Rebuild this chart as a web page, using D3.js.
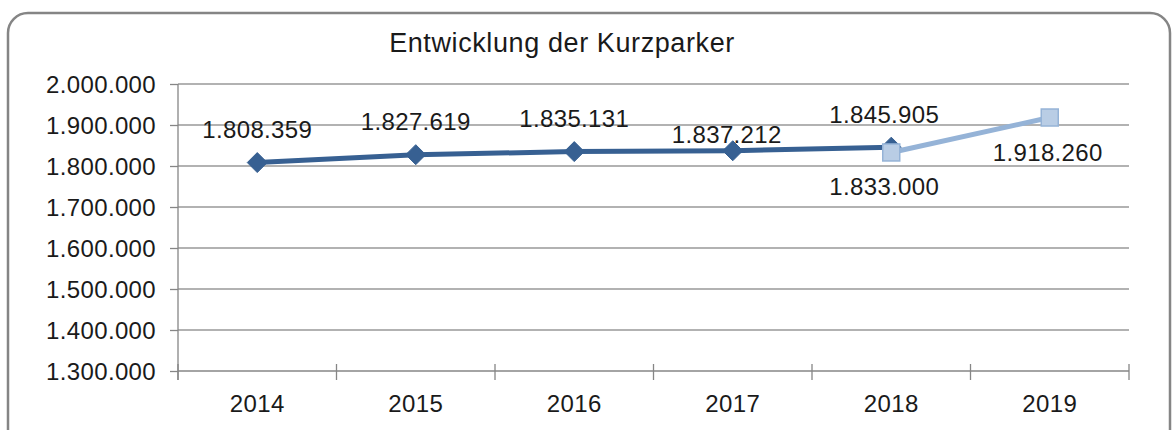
<!DOCTYPE html>
<html lang="de">
<head>
  <meta charset="UTF-8">
  <title>Entwicklung der Kurzparker</title>
  <script src="https://d3js.org/d3.v7.min.js"></script>
  <style>
    body, html {
      margin: 0;
      padding: 0;
      overflow: hidden;
      background: #ffffff;
    }
    text {
      font-family: "Liberation Sans", Arial, sans-serif;
      fill: #1a1a1a;
      letter-spacing: 0.35px;
    }
  </style>
</head>
<body>
<script>
  // data
  const years = ["2014", "2015", "2016", "2017", "2018", "2019"];
  const actualValues = [1808359, 1827619, 1835131, 1837212, 1845905, null];
  const planValues = [null, null, null, null, 1833000, 1918260];
  const yTicks = [1300000, 1400000, 1500000, 1600000, 1700000, 1800000, 1900000, 2000000];

  // label nudges (dx, dy from the point), like Excel placed them by hand
  const actualLabelOffset = [[0, -25], [0, -25], [0, -25], [-6, -8], [-7, -24], null];
  const planLabelOffset = [null, null, null, null, [-7, 43], [-2, 43]];

  const W = 1172, H = 430;
  const plot = { left: 178, right: 1129, top: 84, bottom: 371 };
  const fs = 24;

  const svg = d3.select("body").append("svg")
    .attr("width", W)
    .attr("height", H);

  // chart frame
  svg.append("rect")
    .attr("x", 8)
    .attr("y", 13)
    .attr("width", 1162)
    .attr("height", 440)
    .attr("rx", 20)
    .attr("fill", "none")
    .attr("stroke", "#858585")
    .attr("stroke-width", 2.5);

  const x = d3.scaleBand()
    .domain(years)
    .range([plot.left, plot.right]);

  const y = d3.scaleLinear()
    .domain([1300000, 2000000])
    .range([plot.bottom, plot.top]);

  const fmt = v => d3.format(",")(v).replace(/,/g, ".");

  // gridlines
  svg.append("g")
    .selectAll("line")
    .data(yTicks.filter(t => t > 1300000))
    .join("line")
    .attr("x1", plot.left)
    .attr("x2", plot.right)
    .attr("y1", d => y(d))
    .attr("y2", d => y(d))
    .attr("stroke", "#989898")
    .attr("stroke-width", 1.3);

  // y axis
  const yAxis = svg.append("g")
    .attr("transform", `translate(${plot.left},0)`)
    .call(d3.axisLeft(y).tickValues(yTicks).tickFormat(fmt).tickSize(8).tickPadding(14));
  yAxis.select(".domain")
    .attr("d", `M0,${plot.top}V${plot.bottom + 9}`);
  yAxis.selectAll("line, path").attr("stroke", "#868686").attr("stroke-width", 1.3);
  yAxis.selectAll("text")
    .attr("font-size", fs)
    .attr("fill", "#1a1a1a")
    .attr("dy", "0.36em")
    .style("font-family", "'Liberation Sans', Arial, sans-serif");

  // x axis with ticks between categories
  const xAxis = svg.append("g")
    .attr("transform", `translate(0,${plot.bottom})`);
  xAxis.append("line")
    .attr("x1", plot.left)
    .attr("x2", plot.right)
    .attr("stroke", "#868686")
    .attr("stroke-width", 1.3);
  const bounds = years.map(d => x(d)).concat([plot.right]);
  xAxis.selectAll(".tk")
    .data(bounds)
    .join("line")
    .attr("class", "tk")
    .attr("x1", d => d)
    .attr("x2", d => d)
    .attr("y1", -7)
    .attr("y2", 9)
    .attr("stroke", "#868686")
    .attr("stroke-width", 1.3);
  xAxis.selectAll(".lbl")
    .data(years)
    .join("text")
    .attr("class", "lbl")
    .attr("x", d => x(d) + x.bandwidth() / 2)
    .attr("y", 41)
    .attr("text-anchor", "middle")
    .attr("font-size", fs)
    .text(d => d);

  const cx = d => x(d) + x.bandwidth() / 2;

  function drawSeries(values, color, width) {
    const pts = years.map((yr, i) => ({ yr, v: values[i], i })).filter(p => p.v != null);
    svg.append("path")
      .datum(pts)
      .attr("fill", "none")
      .attr("stroke", color)
      .attr("stroke-width", width)
      .attr("stroke-linejoin", "round")
      .attr("d", d3.line().x(p => cx(p.yr)).y(p => y(p.v)));
    return pts;
  }

  // actual values (dark blue diamonds)
  const actPts = drawSeries(actualValues, "#376092", 5);
  svg.append("g")
    .selectAll("path")
    .data(actPts)
    .join("path")
    .attr("transform", p => `translate(${cx(p.yr)},${y(p.v)})`)
    .attr("d", "M0,-10L10,0L0,10L-10,0Z")
    .attr("fill", "#376092")
    .attr("stroke", "#376092")
    .attr("stroke-width", 1);

  // plan values (light blue squares)
  const planPts = drawSeries(planValues, "#95B3D7", 5);
  svg.append("g")
    .selectAll("rect")
    .data(planPts)
    .join("rect")
    .attr("x", p => cx(p.yr) - 8.5)
    .attr("y", p => y(p.v) - 8.5)
    .attr("width", 17)
    .attr("height", 17)
    .attr("fill", "#B9CDE5")
    .attr("stroke", "#95B3D7")
    .attr("stroke-width", 1.5);

  // data labels
  function drawLabels(pts, offsets) {
    svg.append("g")
      .selectAll("text")
      .data(pts)
      .join("text")
      .attr("x", p => cx(p.yr) + offsets[p.i][0])
      .attr("y", p => y(p.v) + offsets[p.i][1])
      .attr("text-anchor", "middle")
      .attr("font-size", fs)
      .text(p => fmt(p.v));
  }
  drawLabels(actPts, actualLabelOffset);
  drawLabels(planPts, planLabelOffset);

  // title
  svg.append("text")
    .attr("x", 562)
    .attr("y", 52)
    .attr("text-anchor", "middle")
    .attr("font-size", 27)
    .style("letter-spacing", "0.6px")
    .text("Entwicklung der Kurzparker");
</script>
</body>
</html>
